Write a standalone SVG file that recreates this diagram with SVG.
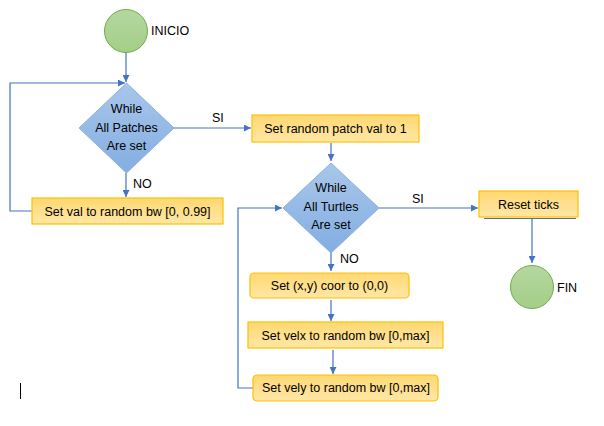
<svg xmlns="http://www.w3.org/2000/svg" width="604" height="426" viewBox="0 0 604 426">
<defs>
<linearGradient id="gOr" x1="0" y1="0" x2="0" y2="1"><stop offset="0" stop-color="#FFD872"/><stop offset="1" stop-color="#FFE7A6"/></linearGradient>
<linearGradient id="gBl" x1="0" y1="0" x2="0" y2="1"><stop offset="0" stop-color="#A9C6EA"/><stop offset="1" stop-color="#82AEE2"/></linearGradient>
<linearGradient id="gGr" x1="0" y1="0" x2="0" y2="1"><stop offset="0" stop-color="#B5D7A0"/><stop offset="1" stop-color="#A3CE88"/></linearGradient>
<marker id="arr" viewBox="0 0 10 10" refX="10" refY="5" markerWidth="7" markerHeight="7" markerUnits="userSpaceOnUse" orient="auto"><path d="M0,0 L10,5 L0,10 Z" fill="#4472C4"/></marker>
</defs>
<style>
text{font-family:"Liberation Sans",Arial,sans-serif;font-size:12.5px;fill:#000;}
.c{text-anchor:middle;}
.box{fill:url(#gOr);stroke:#FFC000;stroke-width:1.2;}
.dia{fill:url(#gBl);stroke:#8FB0DD;stroke-width:1;}
.circ{fill:url(#gGr);stroke:#70AD47;stroke-width:1;}
.con{fill:none;stroke:#4472C4;stroke-width:1.2;}
.ar{marker-end:url(#arr);}
</style>
<rect width="604" height="426" fill="#fff"/>
<g id="connectors">
<path class="con ar" d="M126,52 L126,82"/>
<path class="con ar" d="M32,211 L10,211 L10,83 L125,83"/>
<path class="con ar" d="M174,128 L251,128"/>
<path class="con ar" d="M126,173 L126,197"/>
<path class="con ar" d="M331,143 L331,161"/>
<path class="con ar" d="M379,208 L478,208"/>
<path class="con ar" d="M532,219 L532,263"/>
<path class="con ar" d="M331,253 L331,271"/>
<path class="con ar" d="M331,300 L331,321"/>
<path class="con ar" d="M333,350 L333,374"/>
<path class="con ar" d="M268,388 L238,388 L238,208 L282,208"/>
<text x="212" y="122" font-size="12">SI</text>
<text x="133" y="188" font-size="12">NO</text>
<text x="412" y="203" font-size="12">SI</text>
<text x="340" y="263" font-size="12">NO</text>
</g>
<g id="inicio"><circle class="circ" cx="126" cy="31" r="21.5"/><text x="151" y="35">INICIO</text></g>
<g id="while1"><path class="dia" d="M126.5,83 L174,128 L126.5,173 L79,128 Z"/><text class="c" x="126.5" y="113">While</text><text class="c" x="126.5" y="132">All Patches</text><text class="c" x="126.5" y="150">Are set</text></g>
<g id="setval"><rect class="box" x="32" y="198" width="191" height="26"/><text class="c" x="127.5" y="216">Set val to random bw [0, 0.99]</text></g>
<g id="setpatch"><rect class="box" x="252" y="115" width="167" height="27"/><text class="c" x="335.5" y="133">Set random patch val to 1</text></g>
<g id="while2"><path class="dia" d="M331,163 L379,208 L331,253 L283,208 Z"/><text class="c" x="331" y="192">While</text><text class="c" x="331" y="211">All Turtles</text><text class="c" x="331" y="229">Are set</text></g>
<g id="reset"><line x1="484" y1="218.5" x2="576" y2="218.5" stroke="#5A6E8C" stroke-width="1.2"/><rect class="box" x="479" y="191" width="99" height="26"/><text class="c" x="528.5" y="209">Reset ticks</text></g>
<g id="fin"><circle class="circ" cx="532" cy="287" r="21.5"/><text x="557" y="292">FIN</text></g>
<g id="setxy"><rect class="box" x="250" y="273" width="159" height="25" rx="4"/><text class="c" x="329.5" y="290">Set (x,y) coor to (0,0)</text></g>
<g id="setvelx"><rect class="box" x="248" y="322" width="195" height="26"/><text class="c" x="345.5" y="340">Set velx to random bw [0,max]</text></g>
<g id="setvely"><rect class="box" x="253" y="375" width="185" height="26" rx="4"/><text class="c" x="346" y="392">Set vely to random bw [0,max]</text></g>
<line x1="20.5" y1="383" x2="20.5" y2="399" stroke="#000" stroke-width="1"/>
</svg>
